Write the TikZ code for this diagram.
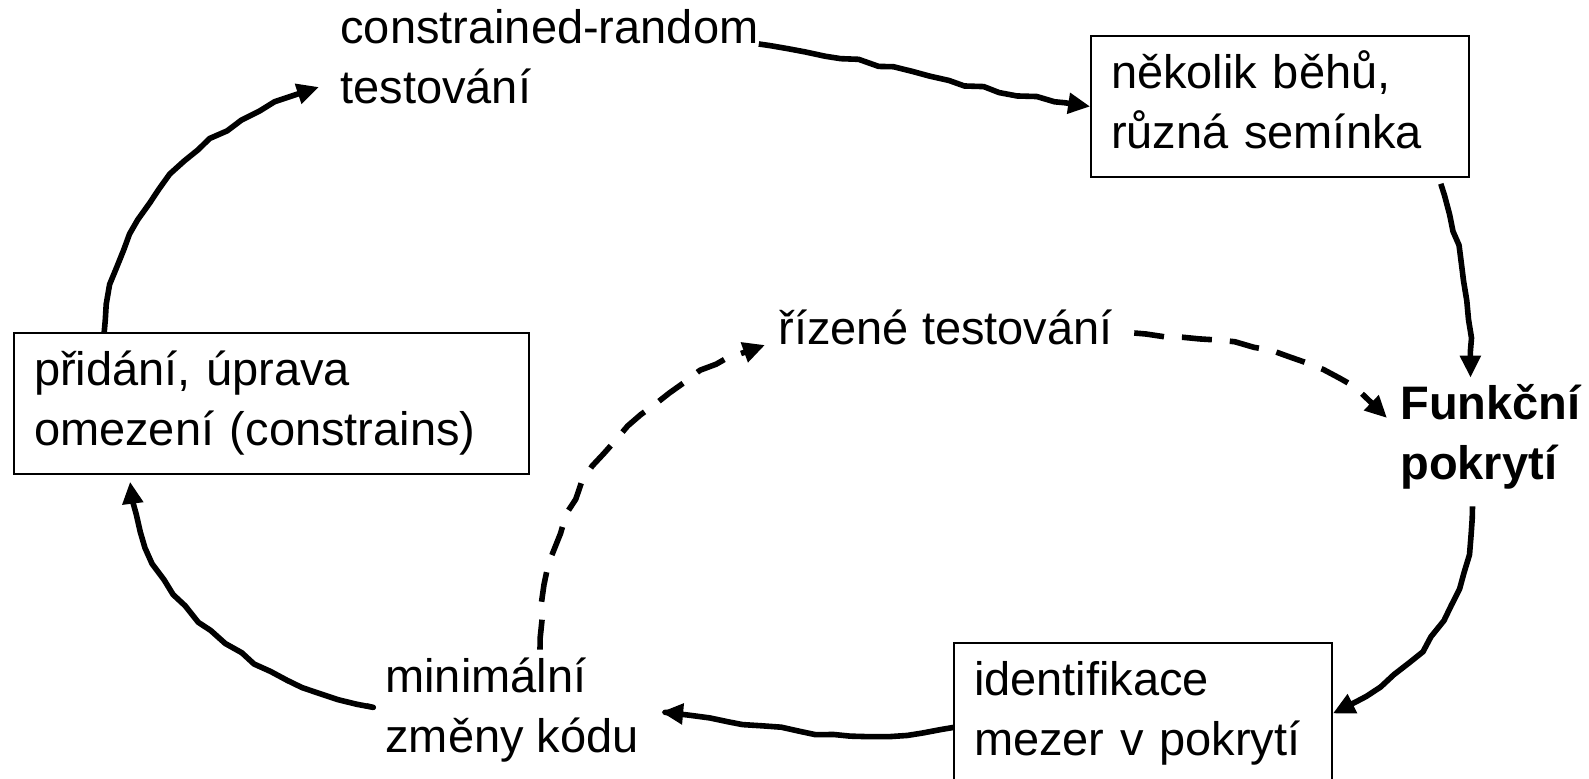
\documentclass[tikz,border=0pt]{standalone}
\usepackage{fontspec}
\setmainfont{Liberation Sans}
\usetikzlibrary{arrows.meta}
\usetikzlibrary{decorations.pathmorphing}
\usetikzlibrary{positioning}
\tikzset{txt/.style = {inner sep = 0, align = left, font = \fontsize{23.5}{30}\selectfont}}
\tikzset{box/.style = {txt, draw, line width = 0.8pt, inner xsep = 10pt, inner ysep = 5.25pt}}
\tikzset{wob/.style = {line width = 2.8pt, line join = round,
                       decoration = {random steps, segment length = 9pt, amplitude = 1pt,
                                     pre length = 6pt, post length = 13pt},
                       decorate, -{Triangle[length = 11pt, width = 10pt]}}}
\tikzset{dsh/.style = {wob, dash pattern = on 15pt off 9pt}}

\begin{document}
\begin{tikzpicture}[x = 0.5pt, y = 0.5pt]
    \useasboundingbox (0, 0) rectangle (1589, -779);
    \pgfmathsetseed{3}
    \node [box, text width = 237.5pt] (lbox) at (271.5, -403.5) {\strut přidání, úprava\\\strut omezení (constrains)};
    \node [box, text width = 169pt] (runs) at (1280, -106.5) {\strut několik běhů,\\\strut různá semínka};
    \node [box, text width = 169pt] (gaps) at (1143, -713.5) {\strut identifikace\\\strut mezer v pokrytí};
    \node [txt, anchor = west] (crt) at (340, -62) {\strut constrained-random\\\strut testování};
    \node [txt, anchor = base west] (riz) at (778, -345) {\strut řízené testování};
    \node [txt, anchor = west, font = \fontsize{23.5}{30}\selectfont\bfseries] (funk) at (1400, -438) {\strut Funkční\\\strut pokrytí};
    \node [txt, anchor = west] (minz) at (385, -710) {\strut minimální\\\strut změny kódu};
    \draw [wob] ([xshift = 45.5pt]lbox.north west) to [out = 86, in = 198] ([xshift = -10.5pt, yshift = -12.5pt]crt.west);
    \draw [wob] ([yshift = 9pt]crt.east) to [out = -8, in = 172] (runs.west);
    \draw [wob] ([xshift = -14.5pt, yshift = -3pt]runs.south east) to [out = -72, in = 90] ([xshift = -10pt]funk.north);
    \draw [wob] ([xshift = -9pt, yshift = -4pt]funk.south) to [out = -90, in = 25] (gaps.east);
    \draw [wob, shorten > = 11pt] ([yshift = -7pt]gaps.west) to [out = 190, in = -5] (minz.east);
    \draw [wob, shorten < = 9.5pt, shorten > = 3.5pt] (minz.west) to [out = 168, in = -85] ([xshift = 58pt]lbox.south west);
    \draw [dsh] ([xshift = 77.5pt]minz.north west) to [out = 90, in = 198] ([xshift = -6.5pt, yshift = -6pt]riz.west);
    \draw [dsh] ([xshift = 10.5pt]riz.east) to [out = -5, in = 135] ([xshift = -6.5pt, yshift = 10pt]funk.west);
\end{tikzpicture}
\end{document}
